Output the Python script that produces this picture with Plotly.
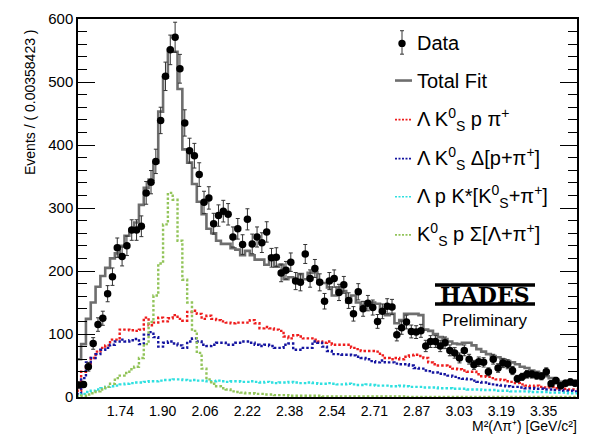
import numpy as np
import plotly.graph_objects as go

# ---------------- data ----------------
XMIN = 1.5757          # axis start  (M^2 threshold)
XMAX = 3.4774          # axis end
BIN0 = 1.5692          # first bin lower edge
BINW = 0.01837         # bin width
TICK_STEP = 0.16135
tick_text = ["1.74", "1.90", "2.06", "2.22", "2.38", "2.54", "2.71", "2.87", "3.03", "3.19", "3.35"]
major_x_ticks = [1.9595, 2.3303, 2.7075, 3.0849]

data = [19, 20, 48, 85, 115, 125, 164, 191, 237, 223, 240, 265, 265, 271, 324, 341, 374, 439, 509, 551,
        571, 521, 435, 391, 383, 353, 309, 316, 275, 288, 295, 290, 254, 267, 242, 282, 243, 254, 245, 262,
        221, 222, 197, 201, 214, 184, 182, 227, 188, 204, 182, 152, 184, 188, 166, 178, 153, 132, 167, 140,
        149, 142, 120, 136, 144, 143, 99, 110, 119, 104, 103, 105, 81, 88, 88, 81, 86, 74, 70, 62,
        74, 60, 51, 56, 55, 40, 60, 46, 54, 52, 42, 29, 32, 36, 36, 34, 33, 40, 21, 26,
        18, 22, 24, 22]

total_fit = [60, 84, 124, 150, 175, 192, 205, 220, 228, 240, 256, 265, 277, 305, 332, 345, 372, 453, 507, 551,
             548, 489, 393, 372, 338, 310, 290, 267, 260, 248, 243, 243, 236, 234, 225, 232, 225, 218, 218, 210,
             223, 207, 210, 187, 190, 187, 195, 187, 197, 198, 181, 181, 174, 161, 174, 168, 150, 161, 150, 145,
             150, 150, 148, 135, 130, 132, 117, 122, 132, 132, 132, 130, 107, 105, 100, 95, 92, 88, 85, 84,
             86, 86, 82, 76, 72, 68, 65, 63, 60, 57, 55, 52, 48, 46, 42, 40, 36, 33, 30, 27,
             24, 22, 21, 20]

lam_k0_p_pi = [10, 40, 50, 62, 72, 78, 82, 91, 91, 107, 107, 106, 105, 107, 126, 114, 118, 126, 120, 125,
               130, 124, 121, 135, 137, 132, 124, 129, 124, 122, 120, 118, 117, 118, 118, 118, 122, 117, 109, 111,
               109, 107, 105, 96, 93, 98, 96, 93, 93, 91, 88, 86, 88, 83, 83, 83, 83, 78, 76, 73,
               73, 73, 72, 66, 62, 60, 62, 60, 64, 66, 67, 65, 62, 55, 52, 50, 50, 48, 45, 44,
               42, 40, 40, 36, 33, 32, 30, 28, 27, 25, 24, 22, 20, 18, 17, 18, 16, 15, 16, 14,
               14, 13, 12, 12]

lam_k0_delta = [5, 30, 55, 62, 68, 75, 78, 83, 88, 91, 88, 90, 92, 84, 99, 103, 95, 80, 86, 88,
                85, 82, 78, 88, 93, 88, 83, 81, 83, 86, 86, 83, 83, 86, 88, 88, 86, 83, 81, 83,
                81, 78, 78, 83, 85, 75, 75, 78, 78, 88, 86, 80, 73, 68, 68, 67, 67, 66, 64, 62,
                60, 57, 55, 58, 55, 55, 53, 52, 52, 50, 46, 45, 42, 41, 39, 37, 36, 34, 32, 30,
                29, 28, 26, 24, 23, 21, 20, 19, 18, 17, 16, 16, 15, 14, 14, 13, 13, 12, 12, 11,
                11, 10, 10, 9]

lam_p_kstar = [2, 5, 8, 10, 12, 14, 16, 17, 18, 20, 21, 22, 23, 23, 24, 25, 25, 26, 27, 27,
               28, 28, 27, 26, 27, 26, 26, 25, 25, 26, 25, 24, 25, 25, 24, 24, 25, 24, 23, 24,
               23, 22, 23, 23, 24, 23, 22, 22, 23, 22, 21, 21, 22, 21, 20, 20, 21, 20, 19, 19,
               20, 19, 18, 18, 18, 17, 17, 18, 17, 16, 16, 16, 15, 15, 15, 14, 14, 14, 13, 13,
               13, 12, 12, 12, 11, 11, 11, 10, 10, 10, 9, 9, 9, 9, 8, 8, 8, 8, 7, 7,
               7, 7, 6, 6]

k0_p_sigma = [1, 2, 4, 6, 9, 12, 16, 21, 30, 34, 38, 44, 48, 62, 84, 119, 161, 212, 274, 324,
              313, 248, 186, 150, 105, 70, 45, 28, 21, 17, 14, 12, 9, 8, 7, 6, 6, 5, 5, 4,
              4, 3, 3, 3, 2, 2, 2, 2, 2, 2, 2, 1, 1, 1, 1, 1, 1, 1, 1, 1,
              1, 1, 1, 1, 1, 1, 1, 1, 0, 0, 0, 0, 0, 0, 0, 0, 0, 0, 0, 0,
              0, 0, 0, 0, 0, 0, 0, 0, 0, 0, 0, 0, 0, 0, 0, 0, 0, 0, 0, 0,
              0, 0, 0, 0]

legend_labels = [
    "Data",
    "Total Fit",
    "Λ K<sup>0</sup><sub>S</sub> p π<sup>+</sup>",
    "Λ K<sup>0</sup><sub>S</sub> Δ[p+π<sup>+</sup>]",
    "Λ p K*[K<sup>0</sup><sub>S</sub>+π<sup>+</sup>]",
    "K<sup>0</sup><sub>S</sub> p Σ[Λ+π<sup>+</sup>]",
]

# ---------------- styling ----------------
FONT = "Liberation Sans, Arial, Helvetica, sans-serif"
W, H = 592, 436
L, R, T, B = 78, 15, 10, 39
PW, PH = W - L - R, H - T - B

def px(xp):
    return (xp - L) / PW

def py(yp):
    return (H - B - yp) / PH

n = len(data)
edges = BIN0 + BINW * np.arange(n + 1)
centers = BIN0 + BINW * (np.arange(n) + 0.5)

def step(vals):
    return list(edges), list(vals) + [vals[-1]]

fig = go.Figure()

comp = [
    (lam_k0_p_pi, "#ee1c1c"),
    (lam_k0_delta, "#1414a0"),
    (lam_p_kstar, "#2ee0e0"),
    (k0_p_sigma, "#92c45a"),
]
for vals, col in comp:
    sx, sy = step(vals)
    fig.add_trace(go.Scatter(x=sx, y=sy, mode="lines", line_shape="hv",
                             line=dict(color=col, width=2.4, dash="2.5px,2px"),
                             hoverinfo="skip", showlegend=False))

sx, sy = step(total_fit)
fig.add_trace(go.Scatter(x=sx, y=sy, mode="lines", line_shape="hv",
                         line=dict(color="#6e6e6e", width=2.6),
                         hoverinfo="skip", showlegend=False))

fig.add_trace(go.Scatter(x=centers, y=data, mode="markers",
                         marker=dict(color="black", size=7.5),
                         error_y=dict(type="data", array=np.sqrt(np.array(data, float)),
                                      color="#333333", thickness=1, width=2),
                         hoverinfo="skip", showlegend=False))

fig.update_layout(
    width=W, height=H,
    margin=dict(l=L, r=R, t=T, b=B),
    paper_bgcolor="white", plot_bgcolor="white",
    font=dict(family=FONT, size=15, color="black"),
    showlegend=False,
    xaxis=dict(range=[XMIN, XMAX], showgrid=False, zeroline=False,
               showline=True, linecolor="black", linewidth=1.5, mirror=True,
               tickvals=[XMIN + TICK_STEP * (k + 1) for k in range(len(tick_text))],
               ticktext=tick_text, ticks="", tickfont=dict(size=14)),
    xaxis2=dict(range=[XMIN, XMAX], overlaying="x", anchor="y", side="bottom",
                showgrid=False, zeroline=False, showline=False, showticklabels=False,
                tickvals=major_x_ticks, ticks="inside", ticklen=11, tickwidth=1,
                tickcolor="black", mirror="ticks"),
    yaxis=dict(range=[0, 600], showgrid=False, zeroline=False,
               showline=True, linecolor="black", linewidth=1.5, mirror="ticks",
               tickvals=[0, 100, 200, 300, 400, 500, 600],
               ticks="inside", ticklen=17, tickwidth=1, tickcolor="black",
               minor=dict(dtick=20, ticks="inside", ticklen=9, tickcolor="black", tickwidth=1),
               tickfont=dict(size=15)),
)

ann = []
ann.append(dict(text="Events / ( 0.00358423 )", textangle=-90, x=px(30), y=py(95),
                xref="paper", yref="paper", xanchor="center", yanchor="middle",
                showarrow=False, font=dict(size=14)))
ann.append(dict(text="M²(Λπ⁺) [GeV/c²]", x=px(578), y=py(436),
                xref="paper", yref="paper", xanchor="right", yanchor="bottom",
                showarrow=False, font=dict(size=14), borderpad=0))

# legend (drawn manually)
rows_y = [35, 73, 113, 153, 192, 231]
for lab, yy in zip(legend_labels, rows_y):
    ann.append(dict(text=lab, x=px(415), y=py(yy), xref="paper", yref="paper",
                    xanchor="left", yanchor="middle", showarrow=False,
                    font=dict(size=20)))

shapes = []
# data symbol
shapes.append(dict(type="line", xref="paper", yref="paper", x0=px(402), x1=px(402),
                   y0=py(22), y1=py(46), line=dict(color="#333333", width=1)))
for yy in (22, 46):
    shapes.append(dict(type="line", xref="paper", yref="paper", x0=px(400), x1=px(404),
                       y0=py(yy), y1=py(yy), line=dict(color="#333333", width=1)))
shapes.append(dict(type="circle", xref="paper", yref="paper", x0=px(398.3), x1=px(405.7),
                   y0=py(31.3), y1=py(38.7), fillcolor="black", line=dict(color="black", width=0)))
# total fit symbol
shapes.append(dict(type="line", xref="paper", yref="paper", x0=px(395), x1=px(412),
                   y0=py(73), y1=py(73), line=dict(color="#6e6e6e", width=2.6)))
for (vals, col), yy in zip(comp, rows_y[2:]):
    shapes.append(dict(type="line", xref="paper", yref="paper", x0=px(395), x1=px(412),
                       y0=py(yy), y1=py(yy), line=dict(color=col, width=1.6, dash="2px,1.5px")))

# HADES logo
shapes.append(dict(type="rect", xref="paper", yref="paper", x0=px(435), x1=px(535),
                   y0=py(284), y1=py(280.5), fillcolor="black", line=dict(width=0)))
shapes.append(dict(type="rect", xref="paper", yref="paper", x0=px(435), x1=px(535),
                   y0=py(303.5), y1=py(300), fillcolor="black", line=dict(width=0)))
ann.append(dict(text="<b>HADES</b>", x=px(485), y=py(292.5), xref="paper", yref="paper",
                xanchor="center", yanchor="middle", showarrow=False,
                font=dict(family="DejaVu Serif, serif", size=22, color="black")))
ann.append(dict(text="Preliminary", x=px(485), y=py(319), xref="paper", yref="paper",
                xanchor="center", yanchor="middle", showarrow=False, font=dict(size=17)))

fig.update_layout(annotations=ann, shapes=shapes)
fig.write_html("out.html")
